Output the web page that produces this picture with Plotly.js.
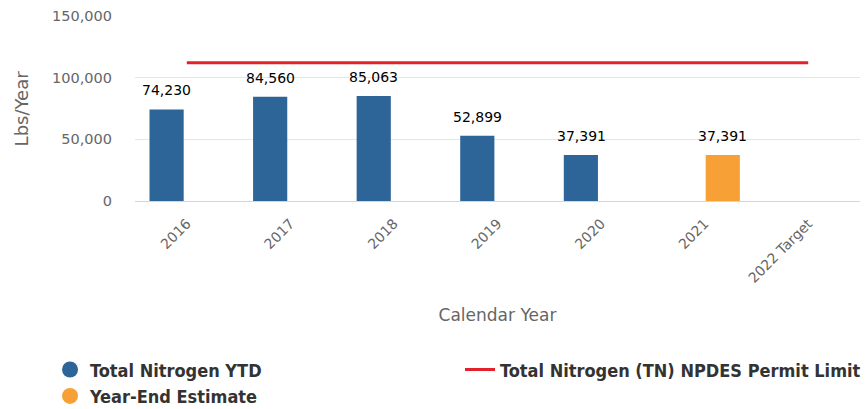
<!DOCTYPE html>
<html>
<head>
<meta charset="utf-8">
<script src="https://cdn.plot.ly/plotly-3.0.1.min.js"></script>
<style>html,body{margin:0;padding:0;background:#fff;}#chart{width:867px;height:409px;}</style>
</head>
<body>
<div id="chart"></div>
<script>
const categories = ["2016", "2017", "2018", "2019", "2020", "2021", "2022 Target"];
const nitrogenYTD = [74230, 84560, 85063, 52899, 37391, null, null];
const yearEndEstimate = [null, null, null, null, null, 37391, null];
const permitLimit = [112000, 112000, 112000, 112000, 112000, 112000, 112000];
const yTickVals = [0, 50000, 100000, 150000];
const yTickText = ["0", "50,000", "100,000", "150,000"];

const fmt = v => v == null ? "" : v.toLocaleString("en-US");
const BLUE = "#2d6599", ORANGE = "#f7a035", RED = "#e4202a";
const labelFont = {family: "DejaVu Sans, Verdana, sans-serif", size: 14, color: "#000"};

const traces = [
  {type: "bar", x: categories, y: nitrogenYTD, name: "Total Nitrogen YTD",
   marker: {color: BLUE}, width: 0.33, offset: -0.36,
   showlegend: false, hoverinfo: "skip"},
  {type: "bar", x: categories, y: yearEndEstimate, name: "Year-End Estimate",
   marker: {color: ORANGE}, width: 0.33, offset: 0.01,
   showlegend: false, hoverinfo: "skip"},
  {type: "scatter", mode: "lines", x: categories, y: permitLimit,
   name: "Total Nitrogen (TN) NPDES Permit Limit",
   line: {color: RED, width: 3}, showlegend: false, hoverinfo: "skip"},
  // legend entries
  {type: "scatter", mode: "markers", x: [null], y: [null], name: "Total Nitrogen YTD",
   marker: {color: BLUE, size: 16, symbol: "circle"}, legend: "legend"},
  {type: "scatter", mode: "markers", x: [null], y: [null], name: "Year-End Estimate",
   marker: {color: ORANGE, size: 16, symbol: "circle"}, legend: "legend"},
  {type: "scatter", mode: "lines", x: [null], y: [null], name: "Total Nitrogen (TN) NPDES Permit Limit",
   line: {color: RED, width: 3}, legend: "legend2"}
];

const annotations = [];
function addLabels(values, shift) {
  values.forEach((v, i) => {
    if (v == null) return;
    annotations.push({x: i, y: v, xref: "x", yref: "y", text: fmt(v),
      showarrow: false, yanchor: "bottom", xanchor: "center", xshift: shift, yshift: 9,
      font: labelFont});
  });
}
addLabels(nitrogenYTD, -20);
addLabels(yearEndEstimate, 18);
annotations.push({text: "Lbs/Year", xref: "paper", yref: "paper", x: -0.156, y: 0.5,
  xanchor: "center", yanchor: "middle", textangle: -90, showarrow: false,
  font: {family: "DejaVu Sans, Verdana, sans-serif", size: 18, color: "#666"}});

const legendFont = {family: "DejaVu Sans Condensed, DejaVu Sans, sans-serif", size: 18, color: "#333", weight: "bold"};

const layout = {
  width: 867, height: 409,
  margin: {l: 135, r: 7, t: 16, b: 208, pad: 0, autoexpand: false},
  paper_bgcolor: "#fff", plot_bgcolor: "#fff",
  showlegend: true,
  font: {family: "DejaVu Sans, Verdana, sans-serif", color: "#666"},
  annotations: annotations,
  xaxis: {
    type: "category", categoryorder: "array", categoryarray: categories,
    range: [-0.5, 6.5],
    tickangle: -45, tickfont: {size: 14, color: "#666"},
    ticks: "outside", ticklen: 8, tickcolor: "rgba(0,0,0,0)",
    showgrid: false, zeroline: false, showline: false,
    title: {text: "Calendar Year", font: {size: 17, color: "#666"}, standoff: 24},
    fixedrange: true
  },
  yaxis: {
    range: [0, 150000], tickvals: yTickVals, ticktext: yTickText,
    tickfont: {size: 14.5, color: "#666"}, ticklabelstandoff: 22,
    showgrid: true, gridcolor: "#e6e6e6", gridwidth: 1,
    zeroline: true, zerolinecolor: "#ccd6eb", zerolinewidth: 1,
    showline: false, ticks: ""
  },
  legend: {
    orientation: "v", xref: "container", yref: "container",
    x: 0.0577, xanchor: "left", y: 0.141, yanchor: "top",
    font: legendFont, itemwidth: 30, traceorder: "normal", bgcolor: "rgba(0,0,0,0)"
  },
  legend2: {
    orientation: "v", xref: "container", yref: "container",
    x: 0.5306, xanchor: "left", y: 0.141, yanchor: "top",
    font: legendFont, itemwidth: 30, bgcolor: "rgba(0,0,0,0)"
  }
};

Plotly.newPlot("chart", traces, layout, {displayModeBar: false, staticPlot: true});
</script>
</body>
</html>
